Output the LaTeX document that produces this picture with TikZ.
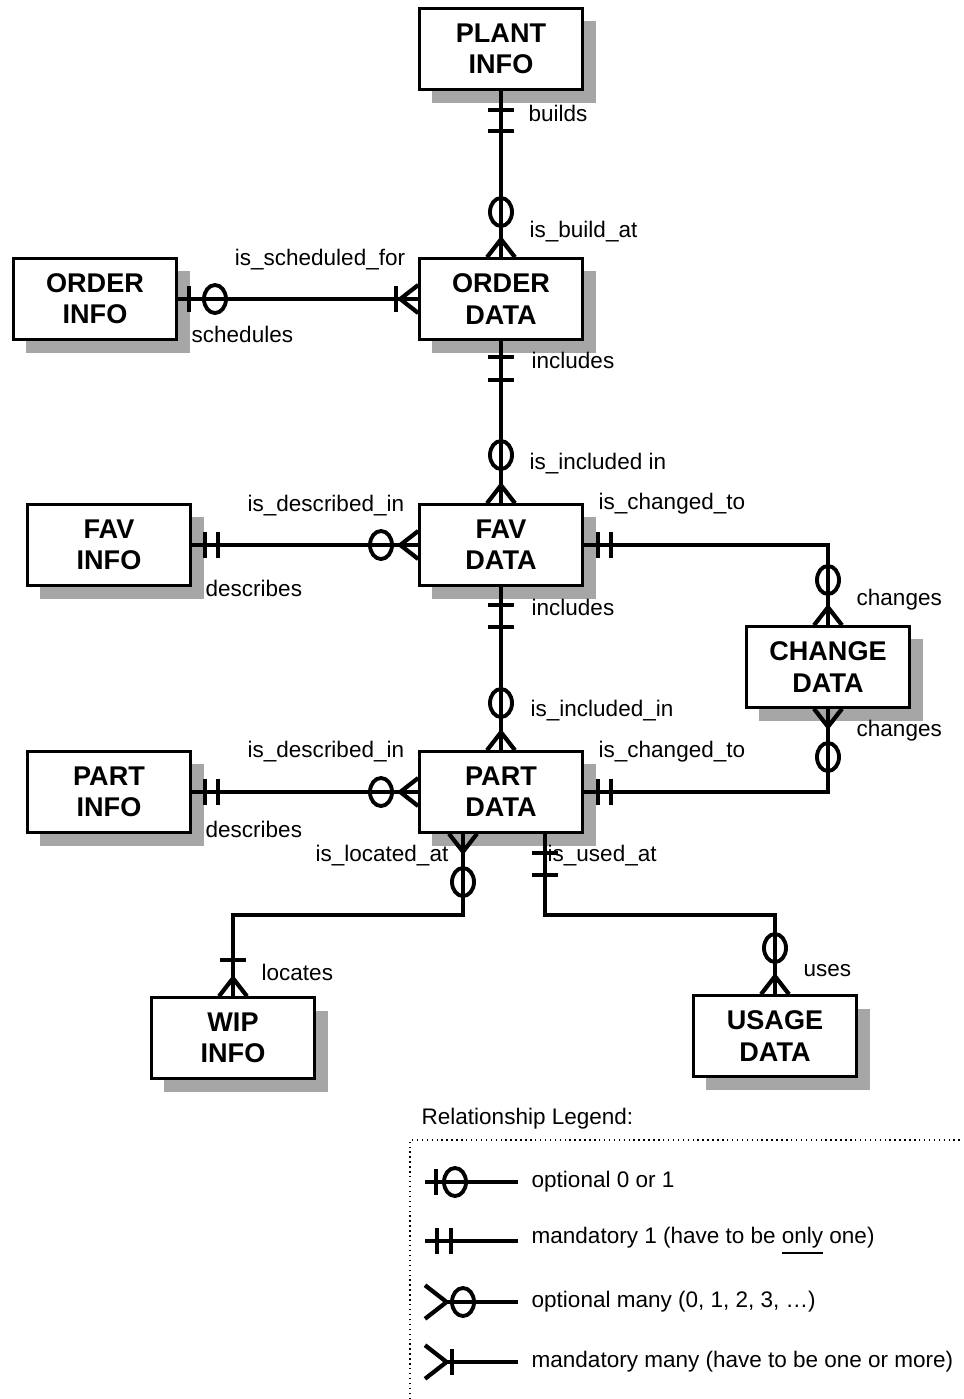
\documentclass[tikz,border=0pt]{standalone}
\usepackage{fontspec}
\setmainfont{Liberation Sans}
\usetikzlibrary{calc,shadows}

\begin{document}
\begin{tikzpicture}[
    x=0.01cm, y=-0.01cm,
    entity/.style={draw, line width=0.7pt, fill=white, align=center, inner sep=0pt,
        minimum width=1.63cm, minimum height=0.81cm,
        font=\fontsize{7.7}{8.9}\selectfont\bfseries,
        drop shadow={shadow xshift=0.13cm, shadow yshift=-0.13cm, opacity=1, fill=black!35}},
    reltext/.style={inner sep=0pt, font=\fontsize{6.4}{7.7}\selectfont},
    rel/.style={line width=1.2pt},
    barmark/.pic={\draw[line width=1.4pt] (-13,0) -- (13,0);},
    ringmark/.pic={\draw[line width=1.1pt] (0,0) ellipse [x radius=0.11cm, y radius=0.14cm];},
    crowfoot/.pic={\draw[line width=1.2pt] (-14,0) -- (0,-18) -- (14,0);}
]
    \useasboundingbox (0,0) rectangle (964,1399);

    % entities
    \node[entity] (plant) at (501,49) {PLANT\\INFO};
    \node[entity] (orderinfo) at (95,299) {ORDER\\INFO};
    \node[entity] (orderdata) at (501,299) {ORDER\\DATA};
    \node[entity] (favinfo) at (109,545) {FAV\\INFO};
    \node[entity] (favdata) at (501,545) {FAV\\DATA};
    \node[entity] (changedata) at (828,667) {CHANGE\\DATA};
    \node[entity] (partinfo) at (109,792) {PART\\INFO};
    \node[entity] (partdata) at (501,792) {PART\\DATA};
    \node[entity] (wipinfo) at (233,1038) {WIP\\INFO};
    \node[entity] (usagedata) at (775,1036) {USAGE\\DATA};

    % plant info - order data
    \draw[rel] (plant) -- (orderdata);
    \pic at (501,110) {barmark};
    \pic at (501,131) {barmark};
    \pic at (501,212) {ringmark};
    \pic at (orderdata.north) {crowfoot};
    \node[reltext, anchor=west] (builds) at (528,113) {builds};
    \node[reltext, anchor=west] (isbuildat) at (529,232) {is\_build\_at};

    % order info - order data
    \draw[rel] (orderinfo) -- (orderdata);
    \pic[rotate=90] at (189,299) {barmark};
    \pic at (215,299) {ringmark};
    \pic[rotate=90] at (396,299) {barmark};
    \pic[rotate=90] at (orderdata.west) {crowfoot};
    \node[reltext] (isschedfor) at (320,260) {is\_scheduled\_for};
    \node[reltext, anchor=west] (schedules) at (191,334) {schedules};

    % order data - fav data
    \draw[rel] (orderdata) -- (favdata);
    \pic at (501,357) {barmark};
    \pic at (501,380) {barmark};
    \pic at (501,455) {ringmark};
    \pic at (favdata.north) {crowfoot};
    \node[reltext, anchor=west] (ordincludes) at (531,360) {includes};
    \node[reltext, anchor=west] (isinclin) at (529,464) {is\_included in};

    % fav info - fav data
    \draw[rel] (favinfo) -- (favdata);
    \pic[rotate=90] at (205,545) {barmark};
    \pic[rotate=90] at (218,545) {barmark};
    \pic at (381,545) {ringmark};
    \pic[rotate=90] at (favdata.west) {crowfoot};
    \node[reltext, anchor=west] (favdescin) at (247,506) {is\_described\_in};
    \node[reltext, anchor=west] (favdescribes) at (205,588) {describes};

    % fav data - change data
    \draw[rel] (favdata.east) -| (changedata.north);
    \pic[rotate=90] at (598,545) {barmark};
    \pic[rotate=90] at (611,545) {barmark};
    \pic at (828,580) {ringmark};
    \pic at (changedata.north) {crowfoot};
    \node[reltext, anchor=west] (favchangedto) at (598,504) {is\_changed\_to};
    \node[reltext, anchor=west] (changesup) at (856,600) {changes};

    % change data - part data
    \draw[rel] (changedata.south) |- (partdata.east);
    \pic[rotate=180] at (changedata.south) {crowfoot};
    \pic at (828,757) {ringmark};
    \pic[rotate=90] at (598,792) {barmark};
    \pic[rotate=90] at (611,792) {barmark};
    \node[reltext, anchor=west] (changesdown) at (856,731) {changes};
    \node[reltext, anchor=west] (partchangedto) at (598,752) {is\_changed\_to};

    % fav data - part data
    \draw[rel] (favdata) -- (partdata);
    \pic at (501,605) {barmark};
    \pic at (501,627) {barmark};
    \pic at (501,703) {ringmark};
    \pic at (partdata.north) {crowfoot};
    \node[reltext, anchor=west] (favincludes) at (531,607) {includes};
    \node[reltext, anchor=west] (isincluded) at (530,711) {is\_included\_in};

    % part info - part data
    \draw[rel] (partinfo) -- (partdata);
    \pic[rotate=90] at (205,792) {barmark};
    \pic[rotate=90] at (218,792) {barmark};
    \pic at (381,792) {ringmark};
    \pic[rotate=90] at (partdata.west) {crowfoot};
    \node[reltext, anchor=west] (partdescin) at (247,752) {is\_described\_in};
    \node[reltext, anchor=west] (partdescribes) at (205,829) {describes};

    % part data - wip info
    \coordinate (locfoot) at ($(partdata.south)+(-38,0)$);
    \draw[rel] (locfoot) -- ++(0,81) -| (wipinfo.north);
    \pic[rotate=180] at (locfoot) {crowfoot};
    \pic at (463,882) {ringmark};
    \pic at (233,960) {barmark};
    \pic at (wipinfo.north) {crowfoot};
    \node[reltext, anchor=east] (islocatedat) at (449,856) {is\_located\_at};
    \node[reltext, anchor=west] (locates) at (261,972) {locates};

    % part data - usage data
    \coordinate (usefoot) at ($(partdata.south)+(44,0)$);
    \draw[rel] (usefoot) -- ++(0,81) -| (usagedata.north);
    \pic at (545,853) {barmark};
    \pic at (545,875) {barmark};
    \pic at (775,948) {ringmark};
    \pic at (usagedata.north) {crowfoot};
    \node[reltext, anchor=west] (isusedat) at (547,856) {is\_used\_at};
    \node[reltext, anchor=west] (uses) at (803,971) {uses};

    % legend
    \node[reltext, anchor=west] (legendtitle) at (421,1119) {Relationship Legend:};
    \draw[densely dotted, line width=0.4pt] (410,1399) |- (963,1140);

    \draw[rel] (425,1182) -- (518,1182);
    \pic[rotate=90] at (436,1182) {barmark};
    \pic at (455,1182) {ringmark};
    \node[reltext, anchor=west] (legopt1) at (531,1182) {optional 0 or 1};

    \draw[rel] (425,1241) -- (518,1241);
    \pic[rotate=90] at (437,1241) {barmark};
    \pic[rotate=90] at (451,1241) {barmark};
    \node[reltext, anchor=west] (legman1) at (531,1241) {mandatory 1 (have to be \underline{only} one)};

    \draw[rel] (443,1302) -- (518,1302);
    \pic[rotate=-90, scale=1.2] at (425,1302) {crowfoot};
    \pic at (463,1302) {ringmark};
    \node[reltext, anchor=west] (legoptmany) at (531,1302) {optional many (0, 1, 2, 3, \dots)};

    \draw[rel] (443,1362) -- (518,1362);
    \pic[rotate=-90, scale=1.2] at (425,1362) {crowfoot};
    \pic[rotate=90] at (452,1362) {barmark};
    \node[reltext, anchor=west] (legmanmany) at (531,1362) {mandatory many (have to be one or more)};
\end{tikzpicture}
\end{document}
